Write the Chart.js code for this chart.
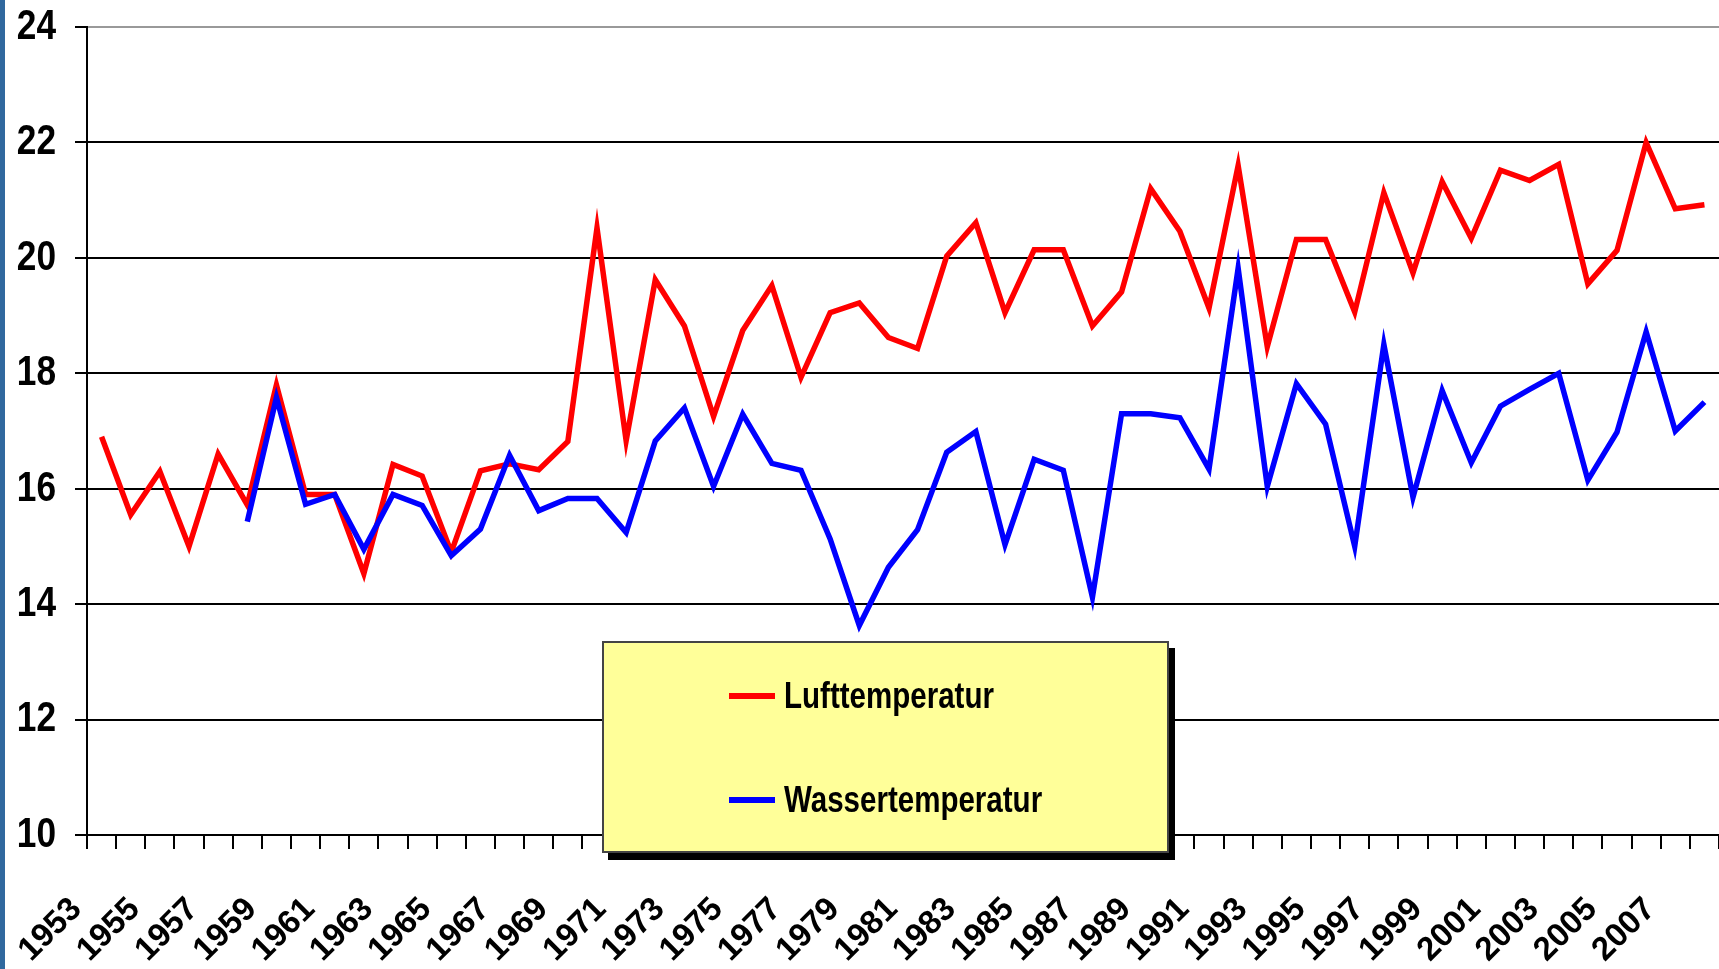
<!DOCTYPE html>
<html>
<head>
<meta charset="utf-8">
<script src="https://cdn.jsdelivr.net/npm/chart.js@4.4.1/dist/chart.umd.min.js"></script>
<style>
  body { margin: 0; background: #fff; }
  #wrap { position: relative; width: 1719px; height: 969px; overflow: hidden; }
  #sidebar { position: absolute; left: 0; top: 0; width: 5px; height: 969px; background: #30689e; }
  #legend {
    position: absolute; left: 602px; top: 641px; width: 563px; height: 208px;
    background: #ffff99; border: 2px solid #444; box-shadow: 6px 7px 0 #000;
    font-family: "Liberation Sans", Arial, sans-serif;
    font-weight: bold; font-size: 36px; color: #000;
  }
  .item { position: absolute; left: 125px; display: flex; align-items: center; white-space: nowrap; }
  .swatch { width: 46px; height: 6px; margin-right: 9px; }
  .item span { display: inline-block; transform: scaleX(0.82); transform-origin: 0 50%; }
</style>
</head>
<body>
<div id="wrap">
  <canvas id="tempChart"></canvas>
  <div id="sidebar"></div>
  <div id="legend"></div>
</div>
<script>
// years (categories)
const years = ['1953','1954','1955','1956','1957','1958','1959','1960','1961','1962',
  '1963','1964','1965','1966','1967','1968','1969','1970','1971','1972',
  '1973','1974','1975','1976','1977','1978','1979','1980','1981','1982',
  '1983','1984','1985','1986','1987','1988','1989','1990','1991','1992',
  '1993','1994','1995','1996','1997','1998','1999','2000','2001','2002',
  '2003','2004','2005','2006','2007','2008'];

// air temperature
const luft = [16.9, 15.55, 16.3, 15.0, 16.6, 15.72, 17.8, 15.9, 15.9, 14.53,
  16.42, 16.22, 14.9, 16.31, 16.43, 16.33, 16.82, 20.52, 16.83, 19.62,
  18.82, 17.25, 18.74, 19.52, 17.93, 19.05, 19.22, 18.62, 18.43, 20.03,
  20.61, 19.05, 20.14, 20.14, 18.82, 19.41, 21.2, 20.46, 19.13, 21.6,
  18.46, 20.32, 20.32, 19.06, 21.13, 19.74, 21.32, 20.34, 21.52, 21.34,
  21.62, 19.55, 20.13, 22.0, 20.85, 20.92];

// water temperature (no data before 1958)
const wasser = [null, null, null, null, null, 15.43, 17.58, 15.73, 15.9, 14.95,
  15.9, 15.71, 14.84, 15.3, 16.58, 15.62, 15.83, 15.83, 15.24, 16.83,
  17.4, 16.04, 17.29, 16.44, 16.32, 15.13, 13.63, 14.64, 15.29, 16.63,
  16.99, 15.03, 16.51, 16.32, 14.12, 17.3, 17.3, 17.23, 16.34, 19.82,
  16.04, 17.82, 17.12, 15.0, 18.5, 15.85, 17.7, 16.45, 17.43, 17.72,
  18.0, 16.15, 16.98, 18.72, 17.0, 17.5];

const yTicks = [10, 12, 14, 16, 18, 20, 22, 24];

const fontFamily = '"Liberation Sans", Arial, sans-serif';

// the y labels in the original use a narrow bold face; no narrow font here,
// so squeeze the normal bold face horizontally
const narrowYLabels = {
  id: 'narrowYLabels',
  afterDraw(chart) {
    const s = chart.scales.y;
    const c = chart.ctx;
    const x = s.right - s.options.grid.tickLength - s.options.ticks.padding;
    c.save();
    c.font = 'bold 43px ' + fontFamily;
    c.fillStyle = '#000';
    c.textAlign = 'right';
    c.textBaseline = 'middle';
    s.ticks.forEach(t => {
      c.save();
      c.translate(x, s.getPixelForValue(t.value));
      c.scale(0.82, 1);
      c.fillText(String(t.value), 0, 0);
      c.restore();
    });
    c.restore();
  }
};

const ctx = document.getElementById('tempChart');
const tempChart = new Chart(ctx, {
  type: 'line',
  data: {
    labels: years,
    datasets: [{
      label: 'Lufttemperatur',
      data: luft,
      borderColor: '#ff0000',
      borderWidth: 5.5,
      pointRadius: 0,
      tension: 0,
      order: 1
    }, {
      label: 'Wassertemperatur',
      data: wasser,
      borderColor: '#0000ff',
      borderWidth: 5.5,
      pointRadius: 0,
      tension: 0,
      order: 0
    }]
  },
  options: {
    responsive: true,
    maintainAspectRatio: false,
    animation: false,
    layout: { padding: { top: 27, left: 0, right: -3, bottom: 0 } },
    plugins: {
      legend: { display: false },
      tooltip: { enabled: false }
    },
    scales: {
      x: {
        offset: true,
        grid: {
          offset: true,
          drawOnChartArea: false,
          drawTicks: true,
          tickLength: 14,
          color: '#000',
          lineWidth: 2
        },
        border: { color: '#000', width: 2 },
        ticks: {
          autoSkip: false,
          minRotation: 45,
          maxRotation: 45,
          padding: 41,
          labelOffset: -25,
          color: '#000',
          font: { family: fontFamily, size: 33, weight: 'bold' },
          callback: function(value, index) {
            return index % 2 === 0 ? years[index] : '';
          }
        },
        afterFit: function(scale) {
          scale.height = 134;
          scale.paddingLeft = 0;
          scale.paddingRight = 0;
        }
      },
      y: {
        min: 10,
        max: 24,
        afterBuildTicks: function(scale) {
          scale.ticks = yTicks.map(v => ({ value: v }));
        },
        grid: {
          color: c => (c.tick && c.tick.value === 24 ? '#999' : '#000'),
          tickColor: '#000',
          lineWidth: 2,
          tickLength: 12
        },
        border: { color: '#000', width: 2 },
        ticks: {
          padding: 19,
          color: 'rgba(0,0,0,0)',
          font: { family: fontFamily, size: 42, weight: 'bold' }
        },
        afterFit: function(scale) {
          scale.width = 87;
          scale.paddingTop = 0;
          scale.paddingBottom = 0;
        }
      }
    }
  },
  plugins: [narrowYLabels]
});

// legend box built from the datasets
const legend = document.getElementById('legend');
const rowTops = [32, 136];
tempChart.data.datasets.forEach((ds, i) => {
  const item = document.createElement('div');
  item.className = 'item';
  item.style.top = rowTops[i] + 'px';
  item.innerHTML = '<div class="swatch" style="background:' + ds.borderColor + '"></div><span>' + ds.label + '</span>';
  legend.appendChild(item);
});
</script>
</body>
</html>
